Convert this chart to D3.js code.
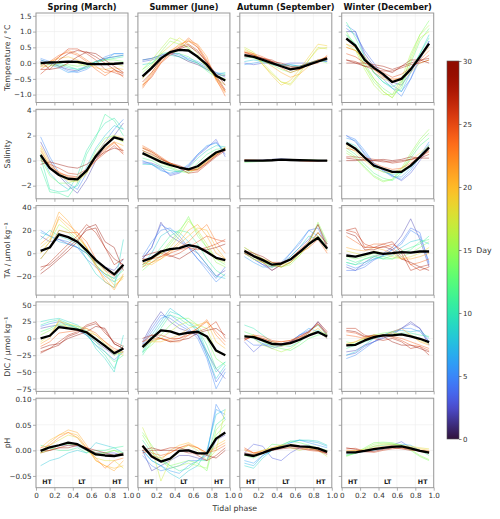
<!DOCTYPE html>
<html>
<head>
<meta charset="utf-8">
<script src="https://cdn.jsdelivr.net/npm/d3@7"></script>
<style>
  body { margin: 0; background: #fff; }
  svg { display: block; font-family: "DejaVu Sans", sans-serif; }
</style>
</head>
<body>
<svg id="chart" width="500" height="519"></svg>
<script>
// Tidal phase bin centres shared by all panels
const PHASE = [0.05, 0.15, 0.25, 0.35, 0.45, 0.55, 0.65, 0.75, 0.85, 0.95];
const SEASONS = ['Spring (March)', 'Summer (June)', 'Autumn (September)', 'Winter (December)'];
const X_TICKS = [0, 0.2, 0.4, 0.6, 0.8, 1.0];
const TIDE_MARKS = [['HT', 0.12], ['LT', 0.5], ['HT', 0.88]];
const TEMP_TICKS = [-1.0, -0.5, 0.0, 0.5, 1.0, 1.5];
const SAL_TICKS = [-2, 0, 2, 4];
const TA_TICKS = [-20, 0, 20, 40];
const DIC_TICKS = [-75, -50, -25, 0, 25, 50];
const PH_TICKS = [-0.05, 0.00, 0.05, 0.10];
const DAY_TICKS = [0, 5, 10, 15, 20, 25, 30];

// ---- Temperature anomaly (°C) ----  rows: [day, values...]
const temp_spring_mean = [0.0, 0.02, 0.03, 0.05, 0.04, -0.02, -0.03, -0.03, -0.02, 0.0];
const temp_spring_days = [
  [2, 0.1, 0.0, -0.1, -0.2, -0.25, -0.1, 0.05, 0.15, 0.2, 0.25],
  [5, 0.15, 0.05, -0.1, -0.25, -0.3, -0.2, 0.0, 0.2, 0.3, 0.3],
  [6, 0.05, -0.05, -0.15, -0.3, -0.25, -0.15, 0.05, 0.1, 0.3, 0.3],
  [8, 0.1, 0.0, -0.05, -0.15, -0.2, -0.1, 0.05, 0.15, 0.2, 0.25],
  [11, -0.05, 0.05, 0.0, -0.1, -0.2, -0.15, 0.0, 0.1, 0.15, 0.2],
  [14, 0.0, -0.05, -0.1, -0.05, -0.1, -0.05, 0.05, 0.1, 0.1, 0.05],
  [17, -0.1, -0.1, 0.0, 0.05, 0.0, -0.1, -0.05, 0.0, 0.0, -0.1],
  [20, -0.05, 0.05, 0.15, 0.2, 0.1, 0.0, -0.15, -0.2, -0.15, -0.2],
  [23, -0.2, 0.0, 0.2, 0.4, 0.3, 0.1, -0.1, -0.3, -0.25, -0.3],
  [24, -0.1, 0.05, 0.25, 0.35, 0.25, 0.05, -0.2, -0.4, -0.2, -0.45],
  [26, -0.35, -0.1, 0.2, 0.45, 0.45, 0.3, 0.1, -0.2, -0.3, -0.4],
  [28, -0.2, -0.2, 0.1, 0.3, 0.4, 0.35, 0.2, 0.0, -0.2, -0.35],
  [29, 0.05, -0.2, -0.15, 0.0, 0.2, 0.35, 0.3, 0.1, -0.1, -0.3]
];
const temp_summer_mean = [-0.42, -0.15, 0.15, 0.35, 0.42, 0.4, 0.2, -0.05, -0.4, -0.55];
const temp_summer_days = [
  [1, 0.1, 0.15, 0.25, 0.3, 0.2, 0.05, -0.05, -0.2, -0.35, -0.4],
  [3, 0.05, 0.1, 0.2, 0.3, 0.3, 0.1, 0.0, -0.15, -0.3, -0.45],
  [6, 0.1, 0.15, 0.25, 0.35, 0.25, 0.15, 0.05, -0.1, -0.3, -0.35],
  [9, -0.05, 0.0, 0.2, 0.25, 0.2, 0.1, 0.0, -0.2, -0.35, -0.3],
  [12, -0.2, 0.0, 0.3, 0.35, 0.3, 0.2, 0.0, -0.25, -0.45, -0.35],
  [15, -0.3, -0.05, 0.35, 0.7, 0.6, 0.5, 0.15, -0.1, -0.4, -0.5],
  [16, -0.2, 0.1, 0.45, 0.8, 0.7, 0.45, 0.2, -0.15, -0.45, -0.55],
  [18, -0.5, -0.1, 0.3, 0.55, 0.8, 0.6, 0.3, -0.1, -0.5, -0.7],
  [21, -0.7, -0.3, 0.1, 0.4, 0.55, 0.75, 0.5, 0.0, -0.5, -0.9],
  [22, -0.75, -0.35, 0.0, 0.35, 0.6, 0.7, 0.6, 0.2, -0.55, -0.95],
  [24, -0.8, -0.4, 0.05, 0.3, 0.5, 0.8, 0.55, 0.1, -0.5, -1.05],
  [25, -0.7, -0.45, 0.0, 0.25, 0.45, 0.7, 0.5, 0.05, -0.45, -0.9],
  [27, -0.6, -0.3, 0.1, 0.35, 0.5, 0.6, 0.4, 0.0, -0.4, -0.85],
  [29, -0.45, -0.2, 0.15, 0.3, 0.45, 0.55, 0.35, 0.05, -0.35, -0.7]
];
const temp_autumn_mean = [0.25, 0.2, 0.1, 0.0, -0.1, -0.2, -0.15, -0.05, 0.05, 0.15];
const temp_autumn_days = [
  [3, 0.0, -0.05, 0.0, 0.0, -0.05, 0.0, 0.0, 0.0, 0.05, 0.05],
  [6, -0.05, 0.0, 0.05, -0.05, -0.1, -0.05, -0.1, 0.0, 0.1, 0.05],
  [8, 0.05, 0.1, 0.05, 0.0, -0.05, -0.05, -0.1, 0.0, 0.05, 0.1],
  [10, 0.15, 0.2, 0.1, 0.0, -0.05, -0.1, -0.1, -0.05, 0.05, 0.1],
  [14, 0.25, 0.15, 0.05, -0.05, -0.2, -0.3, -0.2, 0.0, 0.1, 0.0],
  [17, 0.5, 0.35, 0.0, -0.3, -0.6, -0.65, -0.3, 0.1, 0.5, 0.45],
  [18, 0.45, 0.3, -0.05, -0.35, -0.6, -0.7, -0.35, 0.1, 0.45, 0.5],
  [19, 0.4, 0.3, -0.05, -0.4, -0.7, -0.55, -0.2, 0.2, 0.6, 0.55],
  [21, 0.35, 0.25, 0.1, -0.1, -0.3, -0.45, -0.35, -0.1, 0.1, 0.2],
  [24, 0.35, 0.3, 0.2, 0.05, -0.15, -0.3, -0.2, -0.05, 0.0, 0.25],
  [26, 0.35, 0.25, 0.15, 0.05, -0.1, -0.2, -0.2, -0.05, 0.05, 0.2],
  [27, 0.3, 0.25, 0.15, 0.1, -0.05, -0.15, -0.1, 0.0, 0.1, 0.15],
  [29, 0.2, 0.2, 0.15, 0.05, 0.0, -0.1, -0.15, -0.05, 0.05, 0.1]
];
const temp_winter_mean = [0.78, 0.55, 0.1, -0.15, -0.35, -0.6, -0.5, -0.2, 0.2, 0.62];
const temp_winter_days = [
  [2, 1.0, 1.0, 0.3, -0.1, -0.4, -0.6, -0.7, -0.3, 0.2, 0.7],
  [4, 1.1, 0.9, 0.4, 0.0, -0.4, -0.7, -0.9, -0.5, 0.2, 0.6],
  [5, 1.2, 1.0, 0.2, -0.3, -0.5, -0.8, -1.05, -0.5, 0.1, 0.7],
  [8, 0.9, 0.6, 0.1, -0.3, -0.6, -0.8, -0.9, -0.3, 0.3, 0.9],
  [11, 1.3, 0.8, 0.2, -0.3, -0.6, -0.75, -0.6, -0.2, 0.3, 0.8],
  [13, 0.9, 0.6, 0.0, -0.5, -0.8, -1.0, -0.8, 0.0, 0.7, 1.1],
  [14, 1.0, 0.5, -0.1, -0.6, -0.9, -1.1, -0.7, 0.2, 0.9, 1.35],
  [16, 0.6, 0.4, -0.2, -0.7, -1.0, -1.0, -0.5, 0.3, 0.9, 1.2],
  [17, 0.8, 0.5, -0.1, -0.5, -0.9, -1.1, -0.6, 0.1, 0.8, 1.0],
  [19, 0.5, 0.4, 0.1, -0.3, -0.5, -0.6, -0.5, -0.3, 0.0, 0.1],
  [22, 0.6, 0.5, 0.2, -0.2, -0.4, -0.55, -0.45, -0.2, 0.2, 0.5],
  [23, 0.5, 0.4, 0.1, -0.2, -0.45, -0.5, -0.5, -0.2, 0.1, 0.4],
  [25, 0.3, 0.2, 0.0, -0.15, -0.3, -0.45, -0.35, -0.15, 0.05, 0.25],
  [27, 0.1, 0.05, -0.1, -0.2, -0.25, -0.25, -0.15, -0.05, 0.0, 0.1],
  [28, 0.0, 0.0, 0.0, -0.05, -0.1, -0.2, -0.1, 0.0, 0.1, 0.15],
  [29, 0.1, 0.0, -0.1, -0.1, -0.2, -0.3, -0.1, 0.1, 0.1, 0.0]
];

// ---- Salinity anomaly ----
const sal_spring_mean = [0.45, -0.6, -1.15, -1.45, -1.5, -0.8, 0.35, 1.2, 1.85, 1.65];
const sal_spring_days = [
  [2, 1.5, 0.0, -1.2, -2.0, -2.6, -1.5, 0.0, 1.2, 2.0, 3.0],
  [5, 1.9, 0.3, -1.0, -1.8, -2.3, -1.0, 0.5, 1.5, 2.5, 3.3],
  [8, 0.5, -1.0, -1.8, -2.3, -2.0, -0.5, 1.0, 2.0, 2.8, 2.5],
  [10, 0.3, -2.3, -2.5, -2.4, -1.2, 0.8, 2.0, 3.0, 3.4, 2.5],
  [11, -0.5, -2.5, -2.6, -2.9, -1.8, 0.5, 1.8, 3.7, 3.2, 2.0],
  [14, 0.2, -1.2, -1.8, -1.8, -1.5, -0.8, 0.8, 1.8, 2.0, 1.5],
  [17, 0.6, -0.6, -1.2, -1.5, -1.6, -1.0, 0.3, 1.2, 1.8, 1.5],
  [19, 1.0, -0.5, -1.2, -1.6, -1.7, -1.0, 0.5, 1.5, 2.0, 1.8],
  [20, 1.2, -0.2, -1.0, -1.4, -1.5, -0.8, 0.4, 1.0, 1.5, 1.2],
  [23, 0.8, -0.4, -0.9, -1.3, -1.4, -0.9, 0.0, 0.8, 1.4, 0.8],
  [25, 0.2, -0.5, -1.0, -1.2, -1.3, -0.8, 0.2, 0.9, 1.5, 0.6],
  [26, 0.0, -0.3, -0.6, -1.0, -1.1, -0.7, 0.0, 0.6, 1.2, 0.5],
  [29, -0.3, -0.1, -0.3, -0.5, -0.6, -0.3, 0.2, 0.7, 1.0, 0.8]
];
const sal_summer_mean = [0.6, 0.25, -0.1, -0.35, -0.55, -0.7, -0.45, 0.1, 0.65, 0.9];
const sal_summer_days = [
  [3, -0.1, -0.2, -0.5, -1.2, -1.0, -0.5, 0.4, 1.0, 1.7, 0.3],
  [4, -0.2, -0.3, -0.7, -1.1, -0.9, -0.4, 0.5, 1.1, 1.5, 0.5],
  [6, 0.0, -0.3, -0.8, -1.0, -0.8, -0.3, 0.5, 1.2, 1.4, 0.8],
  [9, -0.3, -0.3, -0.6, -0.8, -0.9, -0.6, 0.2, 0.8, 1.2, 1.1],
  [12, 0.2, 0.0, -0.4, -0.6, -0.9, -0.9, -0.2, 0.5, 0.9, 1.0],
  [15, 0.5, 0.2, -0.2, -0.5, -0.8, -1.0, -0.6, 0.2, 0.7, 0.9],
  [18, 0.8, 0.4, 0.0, -0.3, -0.6, -0.8, -0.7, 0.0, 0.5, 0.9],
  [21, 1.0, 0.6, 0.1, -0.2, -0.5, -0.7, -0.6, -0.1, 0.5, 1.1],
  [22, 1.1, 0.7, 0.2, -0.2, -0.5, -0.8, -0.7, -0.1, 0.5, 1.0],
  [24, 1.2, 0.8, 0.3, -0.2, -0.5, -0.8, -0.8, -0.2, 0.4, 1.0],
  [27, 1.0, 0.7, 0.2, -0.3, -0.6, -1.0, -0.9, -0.3, 0.3, 0.8],
  [29, 0.8, 0.5, 0.1, -0.2, -0.4, -0.7, -0.7, -0.2, 0.4, 0.9]
];
const sal_autumn_mean = [0.0, 0.0, 0.0, 0.03, 0.08, 0.05, 0.03, 0.02, 0.0, 0.0];
const sal_autumn_days = [
  [3, 0.0, 0.02, 0.05, 0.1, 0.15, 0.1, 0.05, 0.0, -0.02, 0.0],
  [8, -0.05, -0.05, 0.0, 0.05, 0.1, 0.05, 0.02, 0.0, 0.0, 0.0],
  [13, -0.15, -0.1, -0.05, 0.0, 0.05, 0.05, 0.05, 0.05, 0.03, 0.0],
  [17, -0.05, 0.0, 0.0, 0.02, 0.05, 0.1, 0.08, 0.05, 0.02, 0.0],
  [22, 0.05, 0.05, 0.02, 0.05, 0.08, 0.05, 0.0, -0.02, 0.0, 0.02],
  [26, 0.05, 0.0, 0.0, 0.02, 0.05, 0.05, 0.0, -0.05, -0.05, 0.0],
  [29, 0.02, 0.02, 0.0, 0.0, 0.05, 0.02, 0.0, -0.02, 0.0, 0.0]
];
const sal_winter_mean = [1.4, 0.95, 0.25, -0.4, -0.65, -0.9, -0.9, -0.4, 0.3, 1.05];
const sal_winter_days = [
  [3, 2.0, 1.5, 0.5, -0.3, -0.8, -1.2, -1.6, -1.0, 0.0, 1.0],
  [5, 2.0, 1.7, 0.8, -0.2, -0.7, -1.2, -1.5, -0.8, 0.3, 1.3],
  [6, 1.8, 1.6, 0.6, -0.2, -0.8, -1.3, -1.3, -0.6, 0.4, 1.5],
  [9, 1.5, 1.2, 0.3, -0.5, -0.9, -1.1, -1.0, -0.5, 0.2, 1.2],
  [12, 1.0, 0.5, -0.3, -1.0, -1.4, -1.6, -1.0, 0.2, 1.2, 1.8],
  [14, 0.8, 0.3, -0.5, -1.2, -1.6, -1.5, -0.8, 0.4, 1.5, 2.2],
  [15, 0.6, 0.2, -0.6, -1.3, -1.7, -1.5, -0.6, 0.6, 1.7, 2.5],
  [18, 1.2, 0.7, 0.0, -0.6, -0.9, -1.0, -0.6, 0.0, 0.6, 1.2],
  [21, 1.3, 0.9, 0.2, -0.4, -0.7, -0.9, -0.8, -0.3, 0.3, 0.9],
  [24, 1.0, 0.8, 0.3, -0.2, -0.5, -0.7, -0.6, -0.2, 0.3, 0.7],
  [27, 0.3, 0.3, 0.2, 0.1, 0.0, -0.2, -0.1, 0.1, 0.2, 0.5],
  [28, 0.2, 0.1, 0.0, 0.0, -0.1, -0.1, 0.0, 0.1, 0.3, 0.8],
  [29, 0.0, 0.0, 0.1, 0.0, 0.1, 0.0, 0.1, 0.3, 0.2, 0.2]
];

// ---- Total alkalinity anomaly (µmol kg-1) ----
const ta_spring_mean = [2, 5, 16.5, 14, 10, 2.5, -6, -12.5, -18.5, -10];
const ta_spring_days = [
  [2, 15, 10, 12, 8, 5, 0, -8, -12, -15, -5],
  [5, 20, 15, 12, 10, 5, -5, -12, -18, -22, -10],
  [7, 18, 15, 10, 8, 5, 0, -10, -20, -25, -12],
  [9, 12, 20, 15, 12, 8, -5, -18, -25, -30, 12],
  [13, -5, 5, 20, 18, 10, 0, -10, -18, -22, -15],
  [16, 0, 10, 25, 20, 12, 5, -8, -15, -25, -20],
  [19, 5, 12, 30, 22, 15, 5, -10, -18, -28, -22],
  [21, 8, 15, 36, 28, 15, 5, -12, -22, -32, -18],
  [22, 0, 10, 32, 25, 18, 5, -10, -25, -30, -20],
  [24, -5, 5, 20, 18, 18, 10, -5, -15, -20, -12],
  [27, -15, -8, 0, 8, 15, 25, 18, 5, -10, -5],
  [28, -12, -10, -3, 5, 12, 20, 22, 5, -5, -10],
  [29, -18, -12, -5, 2, 10, 22, 25, 10, 5, -15]
];
const ta_summer_mean = [-7, -4, 1.5, 3.5, 4.5, 7, 5.5, 1, -4, -6];
const ta_summer_days = [
  [2, -5, 5, 27, 15, 10, 5, 0, -10, -20, -15],
  [4, -5, 5, 25, 20, 12, 5, -5, -12, -22, -12],
  [5, -3, 10, 20, 22, 15, 5, -5, -15, -25, -18],
  [8, -10, 0, 15, 20, 18, 10, 0, -10, -20, -22],
  [11, -12, -5, 5, 15, 20, 18, 8, -5, -15, -20],
  [14, -15, -8, -2, 8, 18, 32, 15, 5, -5, -10],
  [15, -12, -5, 0, 10, 20, 30, 18, 5, -8, -12],
  [17, -10, -5, 0, 5, 15, 28, 20, 8, -5, -8],
  [20, -8, -10, -5, 0, 8, 15, 22, 20, 5, -5],
  [21, -5, -8, -5, 2, 10, 20, 25, 15, 0, -5],
  [23, -12, -8, -3, 2, 5, 10, 18, 25, 10, 0],
  [25, -10, -5, -3, 0, 3, 5, 10, 15, 12, 10],
  [26, -5, -5, 0, -3, 0, 5, 3, 5, 8, 12],
  [29, -3, 0, 2, -2, -5, 0, 5, 3, 5, 8]
];
const ta_autumn_mean = [2, -2.5, -6, -10, -9, -5.5, 1, 8, 13.5, 4];
const ta_autumn_days = [
  [3, 0, -5, -10, -15, -10, -3, 5, 12, 25, 8],
  [4, 0, -5, -10, -12, -10, 0, 8, 20, 22, 5],
  [6, -3, -8, -12, -12, -8, 0, 10, 20, 15, 5],
  [9, 3, -3, -8, -12, -10, -3, 5, 15, 12, 3],
  [12, 5, 0, -5, -10, -12, -8, 0, 8, 15, 5],
  [15, 2, -3, -5, -8, -12, -10, -2, 8, 27, 10],
  [16, 0, -5, -8, -10, -12, -8, -2, 10, 25, 8],
  [18, 0, -5, -8, -12, -10, -8, 0, 5, 18, 5],
  [21, 5, 0, -5, -8, -10, -5, 2, 8, 15, 2],
  [24, 3, -2, -5, -10, -12, -8, 0, 5, 12, 0],
  [27, 0, -3, -8, -15, -10, -5, 3, 10, 25, 5],
  [29, 2, 0, -3, -8, -8, -5, 2, 8, 18, 8]
];
const ta_winter_mean = [-2, -3, -1, 1, -0.5, 0, 1, 0.5, 1.5, 1.5];
const ta_winter_days = [
  [2, -12, -15, -8, -3, 0, 5, 15, 30, 12, -12],
  [4, -15, -15, -12, -6, -2, 3, 10, 22, 18, -10],
  [5, -10, -13, -10, -5, -2, 3, 8, 20, 15, -8],
  [8, -8, -10, -8, -5, -3, 0, 5, 10, 12, 8],
  [11, -5, -8, -5, -3, -5, -2, 2, 5, 8, 15],
  [12, -8, -10, -5, -2, -5, -5, 0, 3, 10, 12],
  [14, -3, -5, -3, 0, -3, -5, -3, 0, 5, 10],
  [18, 2, 0, -2, 2, 0, -3, -5, -3, 0, 5],
  [21, 5, 3, 2, 5, 3, 0, -5, -5, -3, 0],
  [24, 15, 10, 5, 8, 8, 5, -3, -10, -8, -5],
  [26, 20, 18, 8, 5, 5, 8, 3, -10, -15, -12],
  [27, 20, 22, 5, 5, 8, 10, 0, -15, -12, -10],
  [29, 18, 15, 3, 3, 6, 3, -5, -8, -12, -15]
];

// ---- Dissolved inorganic carbon anomaly (µmol kg-1) ----
const dic_spring_mean = [0, 4, 17, 15, 13, 9, -1, -11, -22, -15];
const dic_spring_days = [
  [2, 15, 18, 20, 15, 12, 5, -5, -15, -25, -15],
  [5, 18, 22, 25, 20, 15, 5, -10, -20, -32, -20],
  [9, 25, 28, 30, 25, 20, 10, -15, -30, -50, 5],
  [10, 20, 25, 28, 22, 15, 5, -10, -25, -45, -10],
  [12, 10, 15, 22, 20, 18, 8, -5, -20, -35, -25],
  [15, 5, 12, 20, 18, 15, 12, 0, -10, -25, -20],
  [18, -5, 5, 25, 22, 18, 15, 5, -8, -20, -25],
  [21, -8, 0, 28, 15, 12, 10, 5, -5, -18, -22],
  [24, -12, -5, 8, 10, 12, 15, 8, -5, -15, -20],
  [27, -20, -15, -5, 5, 10, 20, 25, 8, -5, -12],
  [28, -22, -15, -10, 3, 8, 18, 22, 12, -8, -15],
  [29, -15, -10, -8, 0, 5, 10, 18, 15, -8, -15]
];
const dic_summer_mean = [-13, 0, 12, 10.5, 6, 8.5, 10, 3, -18, -25];
const dic_summer_days = [
  [2, -5, 20, 40, 25, 15, 10, 5, -20, -45, -60],
  [4, -8, 15, 35, 30, 20, 12, 5, -25, -65, -45],
  [5, -10, 10, 30, 35, 25, 15, 0, -30, -75, -50],
  [8, -20, 5, 25, 45, 35, 25, 10, -25, -60, -40],
  [9, -22, 0, 20, 40, 35, 25, 15, -20, -50, -35],
  [11, -25, -5, 15, 35, 30, 20, 15, -10, -45, -35],
  [14, -20, -10, 5, 20, 30, 30, 20, 0, -30, -40],
  [17, -15, -5, 0, 10, 20, 25, 20, 15, -20, -25],
  [20, -10, -5, -5, 0, 5, 15, 20, 25, -5, -15],
  [23, -5, 0, 0, -5, -5, 5, 15, 28, 5, -10],
  [24, -10, -3, 0, -3, 0, 8, 15, 25, 10, -5],
  [26, -5, 5, 5, 0, 0, 5, 10, 15, 25, 0],
  [29, 0, 5, 0, -5, -3, 0, 8, 12, 15, 5]
];
const dic_autumn_mean = [3, 2, -3, -8, -9, -7, -2, 4.5, 9.5, 3];
const dic_autumn_days = [
  [3, -5, -20, -8, -15, -10, -5, 5, 10, 25, 5],
  [4, 0, -10, -10, -12, -8, -5, 5, 12, 20, 5],
  [6, 5, 0, -8, -10, -12, -5, 5, 15, 10, 0],
  [10, 20, 15, 5, -5, -10, -12, -5, 5, 12, 5],
  [13, 10, 5, -5, -12, -15, -18, -10, 0, 5, 8],
  [16, 5, 0, -10, -15, -20, -15, -5, 10, 20, 5],
  [19, 3, 5, -3, -10, -12, -8, -2, 5, 15, 3],
  [22, 0, 3, 0, -5, -5, -3, 2, 5, 10, 0],
  [25, -3, 5, 3, -3, -5, -3, 3, 10, 22, 5],
  [27, -2, 3, 0, -5, -8, -5, 2, 10, 22, 8],
  [28, 0, 2, -2, -8, -10, -5, 0, 8, 25, 10]
];
const dic_winter_mean = [-10.5, -9.5, -3, 2, 4.5, 4.5, 6, 3, -0.5, -5.5];
const dic_winter_days = [
  [2, -20, -18, -10, -5, 0, 5, 15, 25, 15, -10],
  [3, -25, -22, -12, -5, 2, 8, 15, 22, 15, -5],
  [5, -30, -25, -15, -5, 5, 10, 15, 15, 10, -5],
  [8, -25, -20, -10, 0, 5, 10, 12, 10, 12, 0],
  [11, -15, -10, -5, 0, 5, 5, 8, 8, 5, 3],
  [14, -5, -8, 0, 5, 8, 10, 5, 5, 0, -5],
  [18, -10, -5, 0, 5, 5, 8, 5, 3, -3, -8],
  [21, -8, -5, 2, 5, 3, 10, 15, 5, -5, -10],
  [24, 5, 3, 0, 2, 5, 3, 0, -5, -10, -15],
  [25, 10, 8, 2, 3, 5, 2, -3, -10, -12, -18],
  [27, 15, 15, 5, 0, -3, 0, -5, -15, -12, -25],
  [29, 12, 10, 3, 5, 3, -5, -10, -10, -15, -20]
];

// ---- pH anomaly ----
const ph_spring_mean = [-0.001, 0.006, 0.01, 0.015, 0.012, 0.002, -0.008, -0.01, -0.011, -0.008];
const ph_spring_days = [
  [3, 0.0, 0.005, 0.01, 0.01, 0.008, 0.0, -0.005, -0.005, -0.005, -0.01],
  [8, -0.03, -0.02, -0.015, -0.005, 0.0, -0.005, 0.015, 0.01, 0.005, -0.005],
  [11, 0.01, 0.005, 0.0, 0.0, 0.005, -0.005, 0.0, 0.0, 0.005, 0.008],
  [13, -0.005, 0.005, 0.01, 0.012, 0.01, 0.0, -0.005, -0.005, 0.0, -0.005],
  [15, -0.005, 0.0, 0.01, 0.015, 0.01, 0.0, -0.01, -0.005, 0.0, -0.01],
  [18, 0.0, 0.01, 0.02, 0.03, 0.025, 0.0, -0.015, -0.02, -0.02, -0.035],
  [20, 0.005, 0.02, 0.03, 0.035, 0.03, 0.005, -0.02, -0.03, -0.035, -0.03],
  [21, -0.005, 0.015, 0.03, 0.04, 0.035, 0.01, -0.02, -0.03, -0.04, -0.02],
  [23, 0.005, 0.01, 0.025, 0.035, 0.025, 0.005, -0.015, -0.035, -0.02, -0.015],
  [26, -0.005, 0.0, 0.005, 0.01, 0.01, 0.005, -0.005, -0.01, -0.01, -0.01],
  [29, 0.0, 0.0, 0.005, 0.005, 0.01, 0.005, 0.0, -0.005, -0.01, -0.005]
];
const ph_summer_mean = [0.009, -0.012, -0.022, -0.016, -0.001, 0.0, -0.006, -0.006, 0.023, 0.035];
const ph_summer_days = [
  [2, 0.0, -0.04, -0.03, -0.02, -0.01, -0.01, -0.015, -0.02, 0.02, 0.03],
  [5, -0.01, -0.03, -0.04, -0.035, -0.03, -0.02, -0.02, -0.01, 0.09, 0.06],
  [6, 0.0, -0.02, -0.03, -0.04, -0.045, -0.03, -0.02, -0.005, 0.08, 0.07],
  [8, 0.0, -0.02, -0.03, -0.045, -0.055, -0.04, -0.03, 0.0, 0.07, 0.08],
  [11, 0.02, -0.005, -0.02, -0.03, -0.04, -0.035, -0.02, -0.02, 0.05, 0.065],
  [14, 0.035, 0.01, -0.015, -0.03, -0.025, -0.02, -0.025, -0.04, 0.03, 0.05],
  [15, 0.03, 0.0, -0.02, -0.035, -0.03, -0.025, -0.03, -0.035, 0.04, 0.06],
  [17, 0.045, 0.005, -0.06, -0.02, 0.0, 0.01, 0.0, -0.02, 0.0, 0.08],
  [20, 0.01, -0.01, -0.02, 0.0, 0.01, 0.015, 0.005, -0.01, 0.01, 0.02],
  [22, 0.005, -0.01, -0.015, -0.005, 0.005, 0.012, 0.005, -0.005, 0.005, 0.015],
  [24, 0.0, -0.005, -0.01, -0.005, 0.005, 0.01, 0.005, -0.005, 0.0, 0.01],
  [27, -0.005, 0.0, 0.0, 0.005, 0.005, 0.0, -0.01, -0.02, -0.01, 0.005],
  [29, 0.0, 0.005, 0.0, 0.0, 0.0, -0.005, -0.005, -0.01, -0.015, 0.0]
];
const ph_autumn_mean = [-0.008, -0.011, -0.005, 0.002, 0.006, 0.01, 0.008, 0.007, 0.004, -0.003];
const ph_autumn_days = [
  [3, -0.005, 0.012, 0.008, -0.015, -0.02, -0.005, 0.005, 0.01, 0.0, -0.005],
  [6, -0.02, -0.025, -0.01, 0.0, 0.005, 0.015, 0.02, 0.015, 0.01, 0.005],
  [7, -0.025, -0.03, -0.01, 0.0, 0.008, 0.015, 0.02, 0.018, 0.015, 0.008],
  [9, -0.03, -0.035, -0.015, 0.0, 0.01, 0.018, 0.02, 0.02, 0.018, 0.01],
  [13, -0.01, -0.015, -0.005, 0.012, 0.01, 0.018, 0.015, 0.01, 0.005, 0.0],
  [17, -0.01, -0.008, 0.0, 0.005, 0.01, 0.005, 0.0, 0.005, 0.0, -0.012],
  [21, 0.0, -0.005, 0.0, 0.005, 0.01, 0.012, 0.008, 0.005, 0.002, -0.005],
  [23, 0.002, -0.005, -0.002, 0.003, 0.008, 0.01, 0.008, 0.003, 0.0, -0.005],
  [25, 0.005, -0.005, -0.005, 0.0, 0.005, 0.008, 0.005, 0.0, -0.002, -0.005],
  [29, -0.005, -0.008, -0.005, 0.0, 0.003, 0.005, 0.003, 0.002, 0.0, -0.008]
];
const ph_winter_mean = [-0.004, -0.004, -0.001, 0.0025, 0.005, 0.007, 0.008, 0.004, -0.001, -0.0045];
const ph_winter_days = [
  [3, -0.005, -0.005, 0.0, 0.002, 0.005, 0.01, 0.017, 0.005, 0.0, -0.005],
  [7, -0.008, -0.005, -0.002, 0.0, 0.003, 0.008, 0.012, 0.01, 0.0, -0.003],
  [11, -0.01, -0.006, 0.0, 0.008, 0.01, 0.012, 0.01, 0.005, 0.0, -0.01],
  [14, -0.012, -0.005, 0.005, 0.015, 0.016, 0.015, 0.01, 0.0, -0.012, -0.02],
  [15, -0.01, -0.005, 0.003, 0.012, 0.014, 0.013, 0.008, 0.002, -0.01, -0.018],
  [18, -0.005, -0.002, 0.002, 0.008, 0.012, 0.012, 0.01, 0.008, 0.005, 0.003],
  [20, -0.002, 0.0, 0.0, 0.005, 0.008, 0.01, 0.008, 0.006, 0.003, 0.0],
  [22, 0.0, 0.0, 0.0, 0.002, 0.005, 0.008, 0.005, 0.002, 0.0, -0.002],
  [26, 0.003, 0.004, -0.002, -0.004, 0.0, 0.003, 0.005, 0.002, -0.002, -0.005],
  [29, 0.005, 0.002, -0.003, -0.002, 0.002, 0.005, 0.003, 0.0, 0.0, -0.002]
];

// Row definitions (built from the arrays above)
const ROWS = [
  { label: 'Temperature / °C', domain: [-1.25, 1.59], ticks: TEMP_TICKS, fmt: d3.format('.1f'),
    cells: [[temp_spring_mean, temp_spring_days], [temp_summer_mean, temp_summer_days],
            [temp_autumn_mean, temp_autumn_days], [temp_winter_mean, temp_winter_days]] },
  { label: 'Salinity', domain: [-3.05, 4.1], ticks: SAL_TICKS, fmt: d3.format('d'),
    cells: [[sal_spring_mean, sal_spring_days], [sal_summer_mean, sal_summer_days],
            [sal_autumn_mean, sal_autumn_days], [sal_winter_mean, sal_winter_days]] },
  { label: 'TA / µmol kg⁻¹', domain: [-36.5, 41.5], ticks: TA_TICKS, fmt: d3.format('d'),
    cells: [[ta_spring_mean, ta_spring_days], [ta_summer_mean, ta_summer_days],
            [ta_autumn_mean, ta_autumn_days], [ta_winter_mean, ta_winter_days]] },
  { label: 'DIC / µmol kg⁻¹', domain: [-79, 54.5], ticks: DIC_TICKS, fmt: d3.format('d'),
    cells: [[dic_spring_mean, dic_spring_days], [dic_summer_mean, dic_summer_days],
            [dic_autumn_mean, dic_autumn_days], [dic_winter_mean, dic_winter_days]] },
  { label: 'pH', domain: [-0.073, 0.102], ticks: PH_TICKS, fmt: d3.format('.2f'),
    cells: [[ph_spring_mean, ph_spring_days], [ph_summer_mean, ph_summer_days],
            [ph_autumn_mean, ph_autumn_days], [ph_winter_mean, ph_winter_days]] },
];

// Layout
const COL_X0 = 36, COL_W = 92, COL_STEP = 101.9;
const ROW_Y0 = 13, ROW_H = 89.5, ROW_STEP = 96.3;
const CB = { x: 447, y: 61, w: 12, h: 378 };
const AXIS_GREY = '#9a9a9a';
const TEXT_COL = '#333';

// turbo, with the dark-purple low end of matplotlib's version
const T0 = d3.interpolateTurbo(0.08);
const dayColor = t => t < 0.08 ? d3.interpolateRgb('#30123b', T0)(t / 0.08) : d3.interpolateTurbo(t);
const cScale = d3.scaleLinear().domain([0, 30]).range([0, 1]);
const minus = s => s.replace('-', '\u2212');

const svg = d3.select('#chart');
const x = d3.scaleLinear().domain([0, 1]).range([0, COL_W]);

ROWS.forEach((row, ri) => {
  const top = ROW_Y0 + ri * ROW_STEP;
  const y = d3.scaleLinear().domain(row.domain).range([ROW_H, 0]);
  const line = d3.line().x((d, i) => x(PHASE[i])).y(d => y(d));

  // row label
  svg.append('text')
    .attr('transform', `translate(9.5,${top + ROW_H / 2}) rotate(-90)`)
    .attr('text-anchor', 'middle')
    .attr('font-size', 7.8).style('fill', TEXT_COL)
    .text(row.label);

  row.cells.forEach(([mean, days], ci) => {
    const left = COL_X0 + ci * COL_STEP;
    const g = svg.append('g').attr('transform', `translate(${left},${top})`);

    // grid
    g.selectAll('.gx').data(X_TICKS).join('line')
      .attr('x1', d => x(d)).attr('x2', d => x(d)).attr('y1', 0).attr('y2', ROW_H)
      .attr('stroke', '#ececec').attr('stroke-width', 0.6);
    g.selectAll('.gy').data(row.ticks).join('line')
      .attr('x1', 0).attr('x2', COL_W).attr('y1', d => y(d)).attr('y2', d => y(d))
      .attr('stroke', '#ececec').attr('stroke-width', 0.6);

    // daily lines, drawn in day order
    days.slice().sort((a, b) => a[0] - b[0]).forEach(r => {
      g.append('path').datum(r.slice(1))
        .attr('d', line)
        .attr('fill', 'none')
        .attr('stroke', dayColor(cScale(r[0])))
        .attr('stroke-width', 0.7)
        .attr('stroke-opacity', 0.62);
    });

    // mean line
    g.append('path').datum(mean)
      .attr('d', line)
      .attr('fill', 'none')
      .attr('stroke', '#000')
      .attr('stroke-width', 2.3)
      .attr('stroke-linejoin', 'round');

    // axes
    const ya = d3.axisLeft(y).tickValues(row.ticks).tickSize(3)
      .tickFormat(ci === 0 ? d => minus(row.fmt(d)) : '');
    const xa = d3.axisBottom(x).tickValues(X_TICKS).tickSize(3)
      .tickFormat(ri === ROWS.length - 1 ? d => (d === 0 ? '0' : d3.format('.1f')(d)) : '');
    const gy = g.append('g').call(ya);
    const gx = g.append('g').attr('transform', `translate(0,${ROW_H})`).call(xa);
    [gx, gy].forEach(a => {
      a.select('.domain').remove();
      a.selectAll('line').attr('stroke', AXIS_GREY).attr('stroke-width', 0.8);
      a.selectAll('text').attr('font-size', 7.2).attr('font-family', '"DejaVu Sans", sans-serif')
        .style('fill', TEXT_COL);
    });
    gy.selectAll('text').attr('x', -4.5);
    gx.selectAll('text').attr('y', 5.5);

    // frame
    g.append('rect').attr('width', COL_W).attr('height', ROW_H)
      .attr('fill', 'none').attr('stroke', AXIS_GREY).attr('stroke-width', 1);

    // tide labels in bottom row
    if (ri === ROWS.length - 1) {
      TIDE_MARKS.forEach(([lab, p]) => {
        g.append('text').attr('x', x(p)).attr('y', ROW_H - 3.5)
          .attr('text-anchor', 'middle').attr('font-size', 6.3).attr('font-weight', 'bold')
          .style('fill', '#222').text(lab);
      });
    }

    if (ri === 0) {
      svg.append('text').attr('x', left + COL_W / 2).attr('y', 10)
        .attr('text-anchor', 'middle').attr('font-size', 8.2).attr('font-weight', 'bold')
        .style('fill', '#111').text(SEASONS[ci]);
    }
  });
});

// x-axis title
svg.append('text').attr('x', COL_X0 + (3 * COL_STEP + COL_W) / 2).attr('y', 511)
  .attr('text-anchor', 'middle').attr('font-size', 7.8).style('fill', TEXT_COL).text('Tidal phase');

// colour bar
const defs = svg.append('defs');
const grad = defs.append('linearGradient').attr('id', 'cbGrad')
  .attr('x1', 0).attr('y1', 1).attr('x2', 0).attr('y2', 0);
d3.range(0, 1.0001, 0.02).forEach(t => {
  grad.append('stop').attr('offset', t).attr('stop-color', dayColor(t));
});
svg.append('rect').attr('x', CB.x).attr('y', CB.y).attr('width', CB.w).attr('height', CB.h)
  .attr('fill', 'url(#cbGrad)').attr('stroke', '#555').attr('stroke-width', 0.6);
const cbY = d3.scaleLinear().domain([0, 30]).range([CB.y + CB.h, CB.y]);
const cbAxis = svg.append('g').attr('transform', `translate(${CB.x + CB.w},0)`)
  .call(d3.axisRight(cbY).tickValues(DAY_TICKS).tickSize(2.5));
cbAxis.select('.domain').remove();
cbAxis.selectAll('line').attr('stroke', '#555').attr('stroke-width', 0.7);
cbAxis.selectAll('text').attr('x', 4).attr('font-size', 7).attr('font-family', '"DejaVu Sans", sans-serif')
  .style('fill', TEXT_COL);
svg.append('text').attr('x', 484).attr('y', 253).attr('text-anchor', 'middle')
  .attr('font-size', 7.8).style('fill', TEXT_COL).text('Day');
</script>
</body>
</html>
